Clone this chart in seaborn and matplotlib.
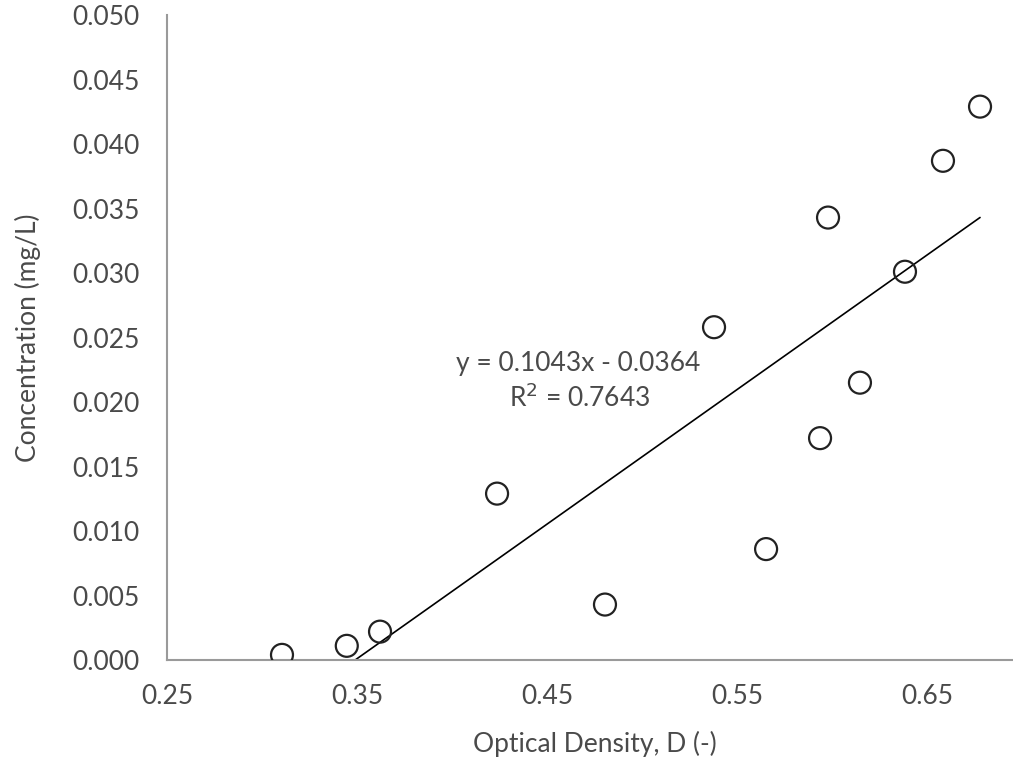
import numpy as np
import pandas as pd
import matplotlib
matplotlib.use("Agg")
import matplotlib.pyplot as plt
import seaborn as sns

# data
optical_density = [0.3105, 0.3446, 0.3621, 0.4237, 0.4805, 0.5379, 0.5653,
                   0.5937, 0.5979, 0.6147, 0.6384, 0.6584, 0.6779]
concentration = [0.0004, 0.0011, 0.0022, 0.0129, 0.0043, 0.0258, 0.0086,
                 0.0172, 0.0343, 0.0215, 0.0301, 0.0387, 0.0429]
slope = 0.1043
intercept = -0.0364
r_squared = 0.7643
x_ticks = [0.25, 0.35, 0.45, 0.55, 0.65]
y_ticks = [0.000, 0.005, 0.010, 0.015, 0.020, 0.025, 0.030, 0.035, 0.040, 0.045, 0.050]

df = pd.DataFrame({"D": optical_density, "C": concentration})

sns.set_theme(style="white")
plt.rcParams['font.family'] = ['Lato', 'DejaVu Sans']

fig = plt.figure(figsize=(10.13, 7.59), dpi=100)
ax = fig.add_axes([0.1649, 0.1304, 0.8440, 0.8498])

# trendline over the data range
x_fit = np.array([min(optical_density), max(optical_density)])
fit = pd.DataFrame({"D": x_fit, "C": slope * x_fit + intercept})
sns.lineplot(data=fit, x="D", y="C", ax=ax, color="black", lw=1.2)

sns.scatterplot(data=df, x="D", y="C", ax=ax, s=250, facecolor="none",
                edgecolor="#222222", linewidth=1.6, zorder=3)

ax.set_xlim(0.25, 0.70)
ax.set_ylim(0, 0.050)
ax.set_xticks(x_ticks)
ax.set_yticks(y_ticks)
ax.set_xticklabels([f"{v:.2f}" for v in x_ticks])
ax.set_yticklabels([f"{v:.3f}" for v in y_ticks])

for side in ["top", "right"]:
    ax.spines[side].set_visible(False)
for side in ["left", "bottom"]:
    ax.spines[side].set_color("#9a9a9a")
    ax.spines[side].set_linewidth(1.5)

ax.tick_params(axis="both", which="major", direction="out", length=7, width=1.2,
               color="#9a9a9a", labelsize=19, labelcolor="#4a4a4a")
ax.tick_params(axis="y", pad=13)
ax.tick_params(axis="x", pad=10)

ax.set_xlabel("Optical Density, D (-)", fontsize=19, color="#4a4a4a", labelpad=16)
ax.set_ylabel("Concentration (mg/L)", fontsize=19, color="#4a4a4a", labelpad=22)

ax.text(0.4663, 0.0230, f"y = {slope:.4f}x - {abs(intercept):.4f}", fontsize=19,
        color="#4a4a4a", ha="center", va="center")
ax.text(0.4674, 0.0203, f"R$^2$ = {r_squared:.4f}", fontsize=19,
        color="#4a4a4a", ha="center", va="center")

fig.savefig("out.png", dpi=100)
